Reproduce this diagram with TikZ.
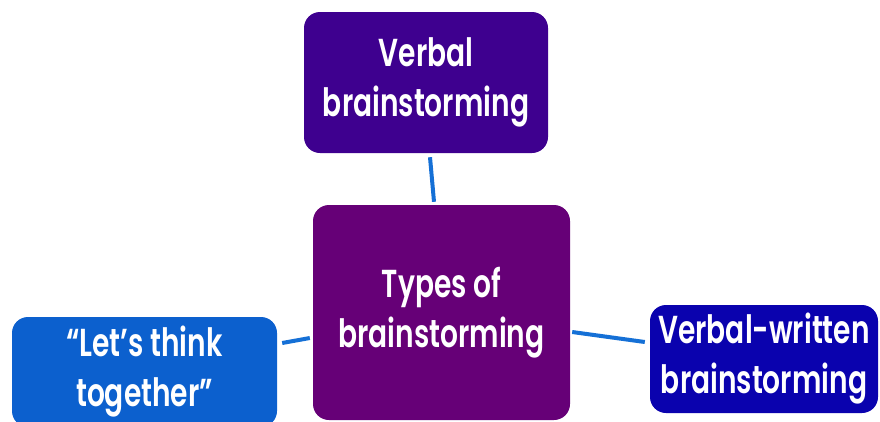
\documentclass[tikz,border=0pt]{standalone}
\usepackage{fontspec}
\setmainfont{Poppins}[FakeStretch=0.72, BoldFont=Poppins SemiBold]
\begin{document}
\begin{tikzpicture}[x=1pt,y=-1pt,
  box/.style={rounded corners=16pt, inner sep=0pt, align=center,
    text=white, font=\fontsize{39}{50}\selectfont\bfseries},
  link/.style={draw=linkblue, line width=4pt}]
\definecolor{topviolet}{HTML}{3E008F}
\definecolor{hubpurple}{HTML}{660077}
\definecolor{leftblue}{HTML}{0C60CE}
\definecolor{rightblue}{HTML}{0A02AE}
\definecolor{linkblue}{HTML}{1570D6}
\useasboundingbox (0,0) rectangle (880,421);
% boxes
\node[box, fill=topviolet, minimum width=244pt, minimum height=141pt] (verbal) at (426,82.5) {Verbal\\brainstorming};
\node[box, fill=hubpurple, minimum width=257pt, minimum height=215pt] (hub) at (441.5,312.5) {Types of\\brainstorming};
\node[box, fill=leftblue, minimum width=265pt, minimum height=110pt] (together) at (144.5,372) {“Let’s think\\together”};
\node[box, fill=rightblue, minimum width=228pt, minimum height=108pt] (written) at (764,359) {Verbal-written\\brainstorming};
% connectors
\draw[link] ([xshift=4pt,yshift=-4pt]verbal.south) -- ([xshift=-7.5pt,yshift=3pt]hub.north);
\draw[link] ([xshift=5pt,yshift=29pt]together.east) -- ([xshift=-3pt,yshift=-25.5pt]hub.west);
\draw[link] ([xshift=2pt,yshift=-19.5pt]hub.east) -- ([xshift=-5pt,yshift=17pt]written.west);
\end{tikzpicture}
\end{document}
